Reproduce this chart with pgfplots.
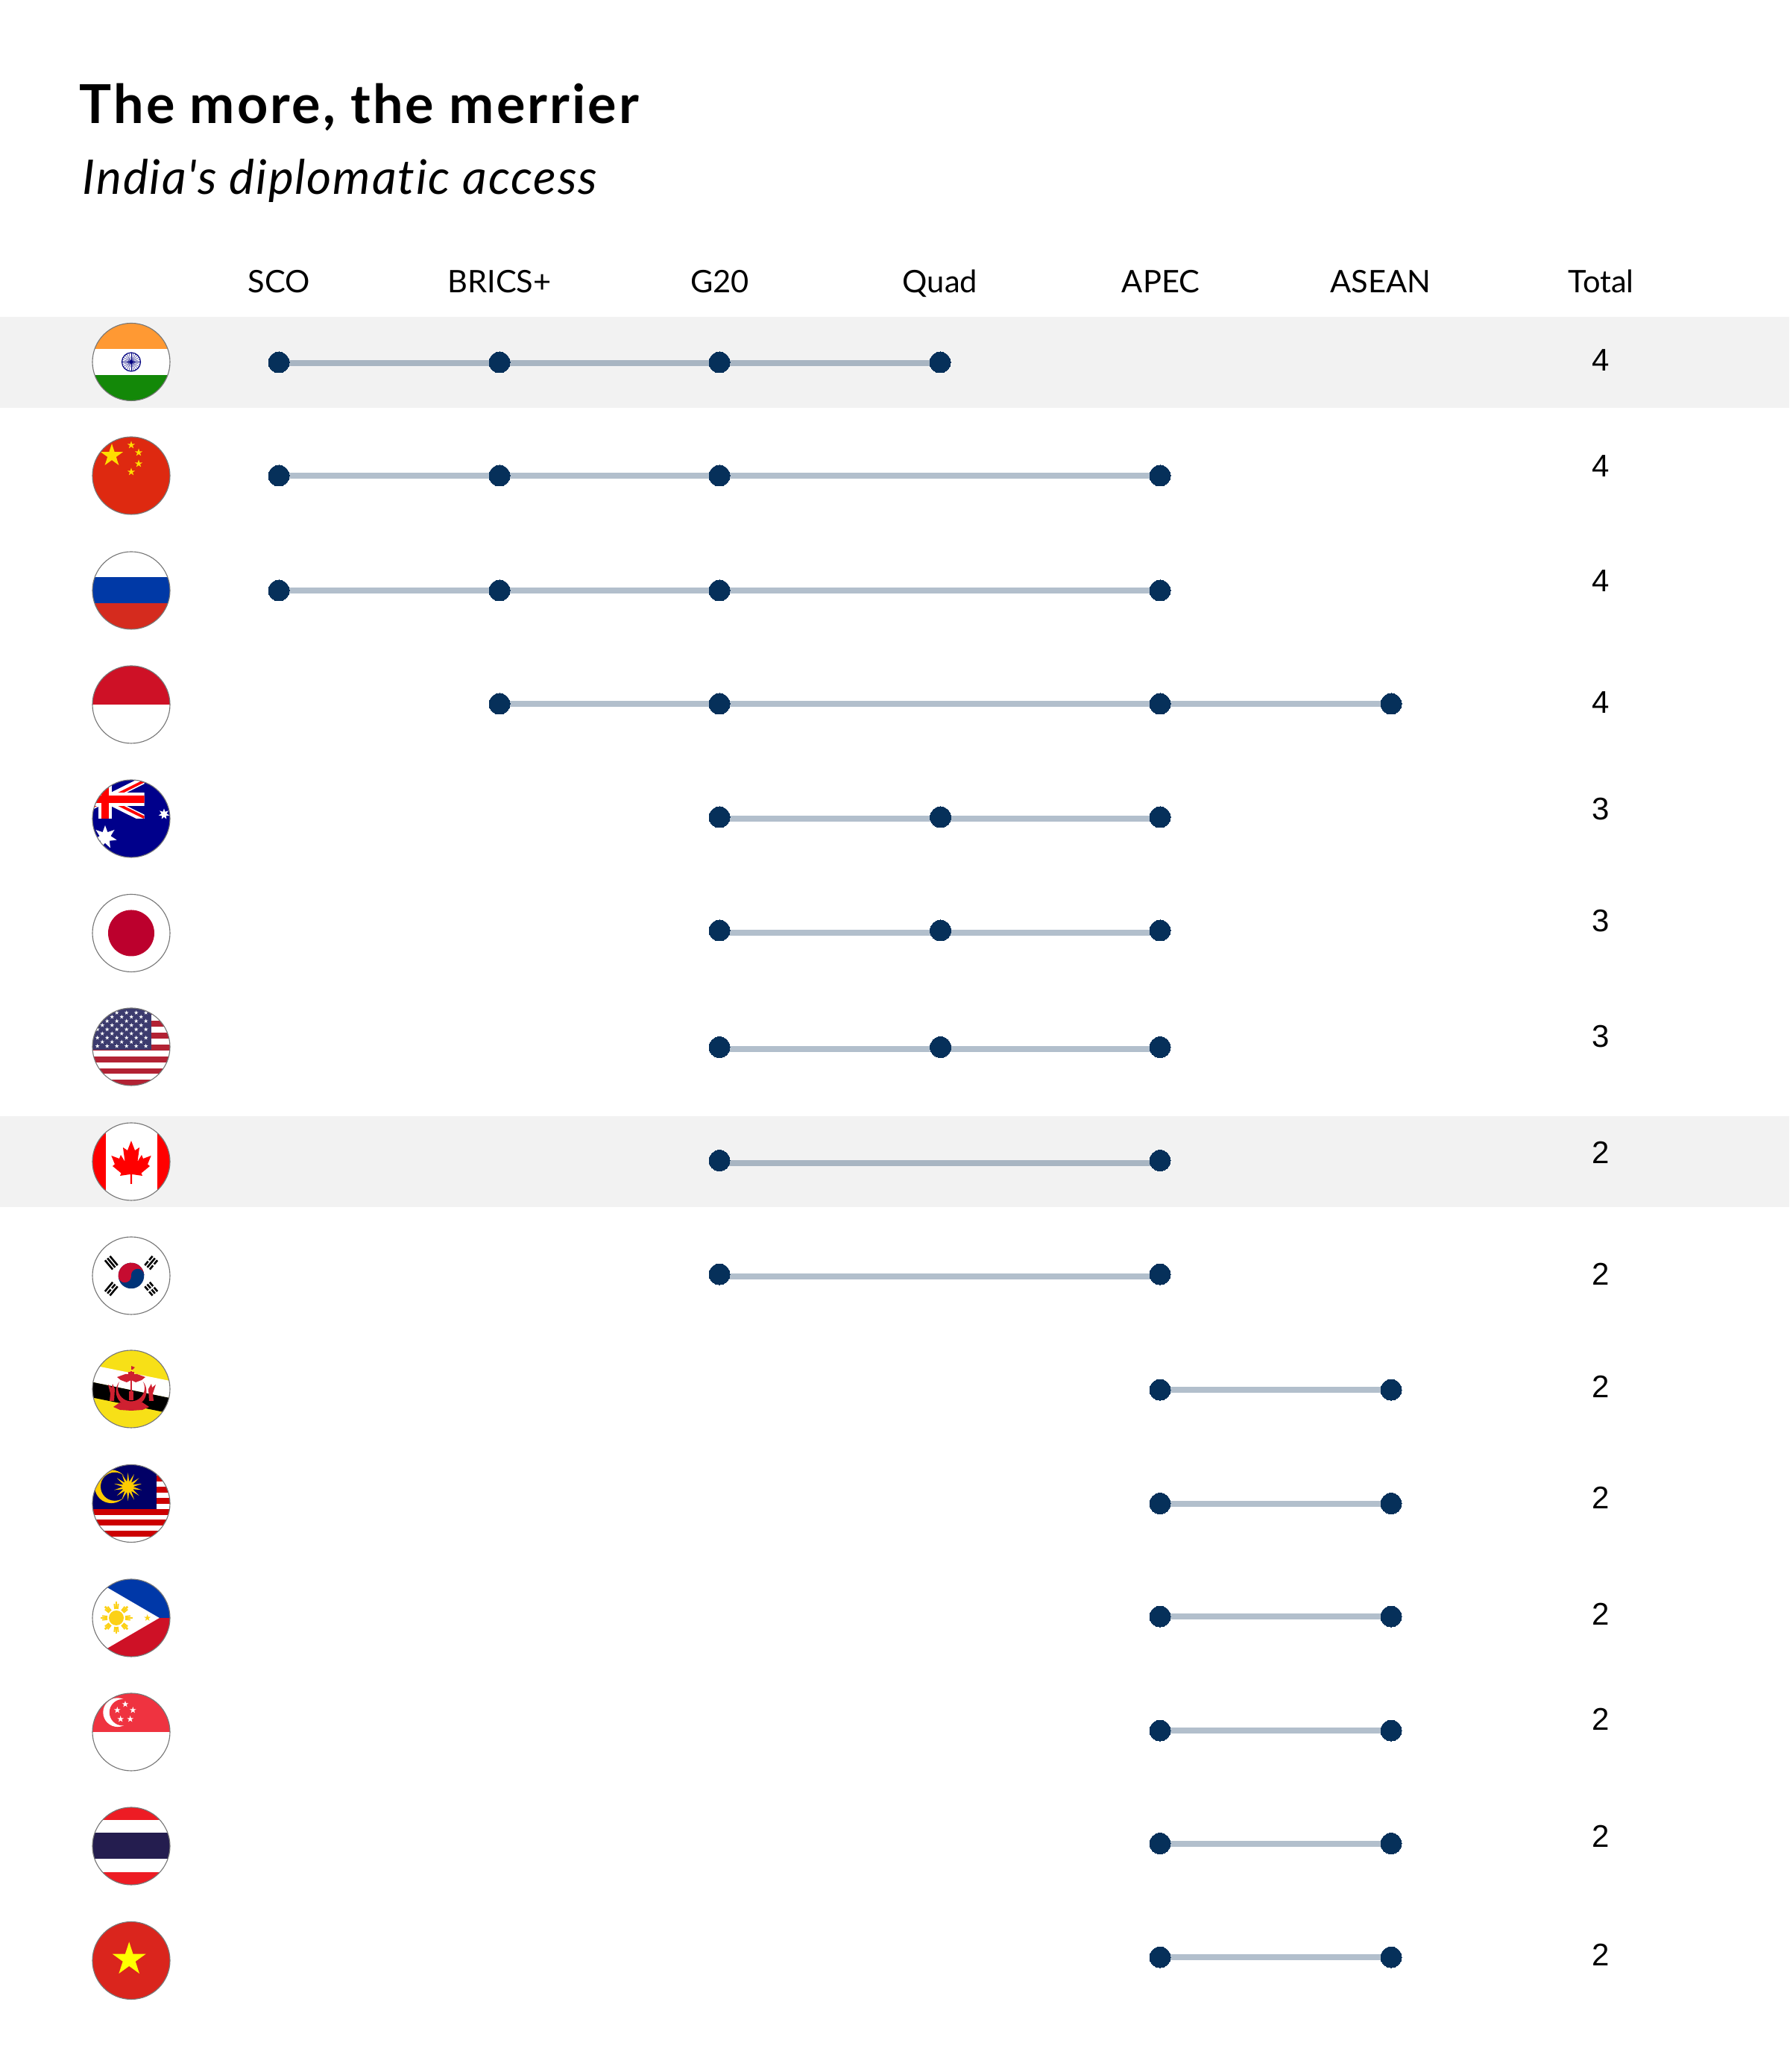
\documentclass[border=0pt]{standalone}
\usepackage{fontspec}
\setmainfont{Lato}
\newfontfamily\numfont{Liberation Sans}
\newfontfamily\titlefont[LetterSpace=4.2]{Lato}
\newfontfamily\subfont[LetterSpace=2.85,Ligatures=NoCommon]{Lato}
\usepackage{pgfplots}
\usepackage{pgfplotstable}
\pgfplotsset{compat=1.18}
\usetikzlibrary{shapes.geometric}
\definecolor{dot}{HTML}{06305A}
\definecolor{band}{HTML}{F2F2F2}
\definecolor{ring}{HTML}{777777}
\pgfplotstableread{
x y
374 486
670 486
965 486
1261 486
374 638
670 638
965 638
1556 638
374 792
670 792
965 792
1556 792
670 944
965 944
1556 944
1866 944
965 1096
1261.5 1096
1556 1096
965 1248
1261.5 1248
1556 1248
965 1404.5
1261.5 1404.5
1556 1404.5
965 1556.5
1556 1556.5
965 1709
1556 1709
1556 1864
1866 1864
1556 2016.5
1866 2016.5
1556 2168
1866 2168
1556 2321
1866 2321
1556 2472.5
1866 2472.5
1556 2625
1866 2625
}\dotdata
\pgfplotstableread{
x y label
374.5 393 SCO
670 393 BRICS+
965.5 393 G20
1261 393 Quad
1557 393 APEC
1852 393 ASEAN
2147.5 393 Total
}\heads
\pgfplotstableread{
x y label
2147.5 497.5 4
2147.5 640 4
2147.5 794 4
2147.5 956.5 4
2147.5 1100 3
2147.5 1249.5 3
2147.5 1405 3
2147.5 1560 2
2147.5 1723 2
2147.5 1874 2
2147.5 2023.5 2
2147.5 2179 2
2147.5 2320 2
2147.5 2477 2
2147.5 2636 2
}\totals
\newcommand\fstar[5][5]{\node[star,star points=#1,star point ratio=#5,minimum size=#4*0.5pt,inner sep=0pt,draw=none,fill=fc] at (#2,#3) {};}
\newcommand\flag[2]{\begin{scope}[shift={(176,#1)}]
  \begin{scope}\clip (0,0) circle[radius=52];
   #2
  \end{scope}
  \draw[ring,line width=0.28pt] (0,0) circle[radius=52];
\end{scope}}
\newcommand\trigram[5]{\begin{scope}[shift={(#1,#2)},rotate=#3]
  \fill[black] (-8,-5.6) rectangle (8,-3.0);
  \ifnum#4=1 \fill[white] (-1,-6) rectangle (1,-2.6);\fi
  \fill[black] (-8,-1.3) rectangle (8,1.3);
  \ifnum#5=1 \fill[white] (-1,-1.6) rectangle (1,1.6);\fi
  \fill[black] (-8,3.0) rectangle (8,5.6);
  \ifnum#4=1 \fill[white] (-1,2.6) rectangle (1,6);\fi
\end{scope}}
\begin{document}
\begin{tikzpicture}
\useasboundingbox (0,0) rectangle (600pt,694.75pt);
\begin{axis}[
  scale only axis, width=600pt, height=694.75pt,
  xmin=0, xmax=2400, ymin=0, ymax=2779, y dir=reverse,
  hide axis, clip=false,
  line/.style={no markers, line width=2pt, dot, opacity=.31, forget plot},
]
\addplot[fill=band, draw=none, forget plot] coordinates {(0,425)(2400,425)(2400,547)(0,547)} -- cycle;
\addplot[fill=band, draw=none, forget plot] coordinates {(0,1497)(2400,1497)(2400,1619)(0,1619)} -- cycle;
\addplot[line] coordinates {(374,487)(1261,487)};
\addplot[line] coordinates {(374,638.5)(1556,638.5)};
\addplot[line] coordinates {(374,792.5)(1556,792.5)};
\addplot[line] coordinates {(670,944)(1866,944)};
\addplot[line] coordinates {(965,1098.5)(1556,1098.5)};
\addplot[line] coordinates {(965,1251)(1556,1251)};
\addplot[line] coordinates {(965,1407)(1556,1407)};
\addplot[line] coordinates {(965,1559.5)(1556,1559.5)};
\addplot[line] coordinates {(965,1712)(1556,1712)};
\addplot[line] coordinates {(1556,1864)(1866,1864)};
\addplot[line] coordinates {(1556,2016.5)(1866,2016.5)};
\addplot[line] coordinates {(1556,2168)(1866,2168)};
\addplot[line] coordinates {(1556,2321)(1866,2321)};
\addplot[line] coordinates {(1556,2472.5)(1866,2472.5)};
\addplot[line] coordinates {(1556,2625)(1866,2625)};
\addplot[only marks, color=dot, mark=*, mark size=3.5pt, mark options={draw=dot, fill=dot, line width=0pt}] table[x=x,y=y] {\dotdata};
\addplot[only marks, mark=none, point meta=explicit symbolic,
  nodes near coords, nodes near coords style={anchor=base, inner sep=0pt, text=black, font=\fontsize{10.4}{13}\selectfont}]
  table[x=x,y=y,meta=label] {\heads};
\addplot[only marks, mark=none, point meta=explicit symbolic,
  nodes near coords, nodes near coords style={anchor=base, inner sep=0pt, text=black, font=\numfont\fontsize{10.5}{12}\selectfont}]
  table[x=x,y=y,meta=label] {\totals};
\node[anchor=base west, inner sep=0pt, font=\titlefont\fontsize{18}{22}\selectfont\bfseries] at (axis cs:106,166) {The more, the merrier};
\node[anchor=base west, inner sep=0pt, font=\subfont\fontsize{16}{18}\selectfont\itshape] at (axis cs:110,261) {India's diplomatic access};
\end{axis}
\begin{scope}[shift={(0,694.75pt)},x=0.25pt,y=-0.25pt]
% India
\flag{485.5}{
 \fill[white] (-52,-52) rectangle (52,52);
 \definecolor{sf}{HTML}{FF9933}\fill[sf] (-52,-52) rectangle (52,-17.5);
 \definecolor{gn}{HTML}{138808}\fill[gn] (-52,17.5) rectangle (52,52);
 \definecolor{nv}{HTML}{000080}
 \draw[nv,line width=.3pt] (0,0) circle[radius=12.5];
 \foreach \a in {0,15,...,345}{\draw[nv,line width=.1pt] (0,0) -- (\a:12);}
 \fill[nv] (0,0) circle[radius=2.4];
}
% China
\flag{638}{
 \definecolor{bgc}{HTML}{DE2910}\definecolor{fc}{HTML}{FFDE00}
 \fill[bgc] (-52,-52) rectangle (52,52);
 \fstar{-26}{-27}{16}{2.618}
 \fstar{0}{-41}{5.5}{2.618}
 \fstar{10}{-31}{5.5}{2.618}
 \fstar{10}{-16}{5.5}{2.618}
 \fstar{0}{-5}{5.5}{2.618}
}
% Russia
\flag{792}{
 \definecolor{ca}{HTML}{0039A6}\definecolor{cb}{HTML}{D52B1E}
 \fill[white] (-52,-52) rectangle (52,52);
 \fill[ca] (-52,-17.5) rectangle (52,17.5);
 \fill[cb] (-52,17.5) rectangle (52,52);
}
% Indonesia
\flag{945}{
 \definecolor{ca}{HTML}{CE1126}
 \fill[white] (-52,-52) rectangle (52,52);
 \fill[ca] (-52,-52) rectangle (52,0);
}
% Australia
\flag{1098}{
 \definecolor{bgc}{HTML}{00008B}\definecolor{fc}{HTML}{FFFFFF}\definecolor{rdc}{HTML}{FF0000}
 \fill[bgc] (-52,-52) rectangle (52,52);
 \begin{scope}\clip (-87,-52) rectangle (17.5,0);
  \draw[white,line width=2.4pt] (-87,-52) -- (17.5,0);
  \draw[white,line width=2.4pt] (-87,0) -- (17.5,-52);
  \draw[rdc,line width=.9pt] (-87,-53.5) -- (17.5,-1.5);
  \draw[rdc,line width=.9pt] (-87,1.5) -- (17.5,-50.5);
  \fill[white] (-87,-35) rectangle (17.5,-17);
  \fill[white] (-44,-52) rectangle (-26,0);
  \fill[rdc] (-87,-31) rectangle (17.5,-21);
  \fill[rdc] (-40,-52) rectangle (-30,0);
 \end{scope}
 \fstar[7]{-35}{25}{16}{2.1}
 \fstar[7]{44}{-6}{7.5}{2.1}
}
% Japan
\flag{1251.5}{
 \definecolor{ca}{HTML}{BC002D}
 \fill[white] (-52,-52) rectangle (52,52);
 \fill[ca] (0,0) circle[radius=31];
}
% USA
\flag{1404}{
 \definecolor{bgc}{HTML}{3C3B6E}\definecolor{rdc}{HTML}{B22234}\definecolor{fc}{HTML}{FFFFFF}
 \fill[white] (-52,-52) rectangle (52,52);
 \foreach \yy in {-51,-35,-19,-3.2,12.7,28.6,44.4}{\fill[rdc] (-52,\yy) rectangle (52,\yy+7.9);}
 \fill[bgc] (-52,-52) rectangle (26.7,4.4);
 \foreach \yy in {-45.7,-34.5,-23.3,-12.1,-0.9}{\foreach \xx in {-45.3,-32.3,-19.3,-6.3,6.7,19.7}{\fstar{\xx}{\yy}{3}{2.618}}}
 \foreach \yy in {-40.1,-28.9,-17.7,-6.5}{\foreach \xx in {-38.8,-25.8,-12.8,0.2,13.2}{\fstar{\xx}{\yy}{3}{2.618}}}
}
% Canada
\flag{1558}{
 \definecolor{ca}{HTML}{FF0000}
 \fill[white] (-52,-52) rectangle (52,52);
 \fill[ca] (-52,-52) rectangle (-34.5,52);
 \fill[ca] (34.5,-52) rectangle (52,52);
 \fill[ca] (0,-28) -- (5,-15) -- (11,-19) -- (8.5,0) -- (14,-9) -- (16,-4) -- (26.7,-8) -- (22,3.5) -- (25,6) -- (13.5,15.5) -- (15,19) -- (1.2,17) -- (1.2,30) -- (-1.2,30) -- (-1.2,17) -- (-15,19) -- (-13.5,15.5) -- (-25,6) -- (-22,3.5) -- (-26.7,-8) -- (-16,-4) -- (-14,-9) -- (-8.5,0) -- (-11,-19) -- (-5,-15) -- cycle;
}
% Korea
\flag{1711}{
 \definecolor{rdc}{HTML}{C60C30}\definecolor{blc}{HTML}{003478}
 \fill[white] (-52,-52) rectangle (52,52);
 \begin{scope}[rotate=4]
  \fill[blc] (0,0) circle[radius=17.3];
  \fill[rdc] (-17.3,0) arc[start angle=180,end angle=360,radius=17.3] -- cycle;
  \fill[rdc] (-8.65,0) circle[radius=8.65];
  \fill[blc] (8.65,0) circle[radius=8.65];
 \end{scope}
 \trigram{-26.7}{-17.3}{-50}{0}{0}
 \trigram{26.7}{-17.3}{50}{1}{0}
 \trigram{-26.7}{17.7}{50}{0}{1}
 \trigram{26.7}{17.7}{-50}{1}{1}
}
% Brunei
\flag{1863}{
 \definecolor{ylc}{HTML}{F7E017}\definecolor{rdc}{HTML}{CF2030}
 \fill[ylc] (-52,-52) rectangle (52,52);
 \fill[white] (-60,-33.7) -- (60,-9.3) -- (60,13.7) -- (-60,-10.9) -- cycle;
 \fill[black] (-60,-10.9) -- (60,13.7) -- (60,34.2) -- (-60,9.8) -- cycle;
 \fill[rdc] (-1.2,-24) rectangle (1.2,12);
 \fill[rdc] (0,-31) -- (5,-29) -- (2,-26) -- (0,-26) -- cycle;
 \fill[rdc] (-4,-23) rectangle (4,-20);
 \fill[rdc] (0,-20) -- (-8,-20) -- (-19,-16) -- (-14,-12) -- (-6,-9) -- (0,-12) -- (6,-9) -- (14,-12) -- (19,-16) -- (8,-20) -- cycle;
 \begin{scope}\clip (-30,-9) rectangle (30,30);
  \fill[rdc,even odd rule] (0,3) circle[radius=20.5] (0,-1.5) circle[radius=18];
 \end{scope}
 \fill[rdc] (-3,3) rectangle (3,15);
 \fill[rdc] (-24,24) -- (-15,18) -- (0,21) -- (15,18) -- (24,24) -- (15,28) -- (0,29) -- (-15,28) -- cycle;
 \fill[rdc] (-31,-6) -- (-26,-2) -- (-25,-7) -- (-22,0) -- (-23,16) -- (-29,16) -- (-28,6) -- cycle;
 \fill[rdc] (33,-6) -- (28,-2) -- (27,-7) -- (23,0) -- (24,16) -- (30,16) -- (29,6) -- cycle;
}
% Malaysia
\flag{2016.5}{
 \definecolor{bgc}{HTML}{010066}\definecolor{rdc}{HTML}{CC0001}\definecolor{fc}{HTML}{FFCC00}
 \fill[white] (-52,-52) rectangle (52,52);
 \foreach \yy in {-52,-37,-22,-7.3,7.7,22,37}{\fill[rdc] (-52,\yy) rectangle (52,\yy+7.4);}
 \fill[bgc] (-52,-52) rectangle (34,7.7);
 \fill[fc] (-26.7,-22.7) circle[radius=22.3];
 \fill[bgc] (-22,-22.7) circle[radius=19];
 \fstar[14]{-4.3}{-22.3}{19}{2.7}
}
% Philippines
\flag{2170}{
 \definecolor{ca}{HTML}{0038A8}\definecolor{cb}{HTML}{CE1126}\definecolor{fc}{HTML}{FCD116}
 \fill[ca] (-52,-52) rectangle (52,0);
 \fill[cb] (-52,0) rectangle (52,52);
 \fill[white] (37.7,0) -- (-54,-53.5) -- (-54,53.5) -- cycle;
 \fill[fc] (-20,0) circle[radius=10];
 \foreach \a in {0,45,...,315}{
  \draw[fc,line width=.7pt] (-20,0) ++(\a:12) -- ++(\a:9.5);
  \draw[fc,line width=.5pt] (-20,0) ++(\a+9:12) -- ++(\a+6:7);
  \draw[fc,line width=.5pt] (-20,0) ++(\a-9:12) -- ++(\a-6:7);
 }
 \fstar{21.7}{0}{4.8}{2.618}
}
% Singapore
\flag{2323}{
 \definecolor{ca}{HTML}{EF3340}\definecolor{fc}{HTML}{FFFFFF}
 \fill[white] (-52,-52) rectangle (52,52);
 \fill[ca] (-52,-52) rectangle (52,0);
 \fill[white] (-18.3,-26.3) circle[radius=19.4];
 \fill[ca] (-11.5,-26.3) circle[radius=17.7];
 \begin{scope}
 \clip (-52,-52) rectangle (52,0);
 \fstar{-8}{-37.3}{4.6}{2.618}
 \fstar{-18.7}{-29.3}{4.6}{2.618}
 \fstar{2.3}{-29.3}{4.6}{2.618}
 \fstar{-14.3}{-17.3}{4.6}{2.618}
 \fstar{-1.3}{-17.3}{4.6}{2.618}
 \end{scope}
}
% Thailand
\flag{2476}{
 \definecolor{ca}{HTML}{ED1C24}\definecolor{cb}{HTML}{241D4F}
 \fill[white] (-52,-52) rectangle (52,52);
 \fill[ca] (-52,-52) rectangle (52,-35);
 \fill[ca] (-52,35) rectangle (52,52);
 \fill[cb] (-52,-17.5) rectangle (52,17.5);
}
% Vietnam
\flag{2629.5}{
 \definecolor{ca}{HTML}{DA251D}\definecolor{fc}{HTML}{FFFF00}
 \fill[ca] (-52,-52) rectangle (52,52);
 \fstar{-2.8}{-1.5}{23.5}{2.618}
}
\end{scope}
\end{tikzpicture}
\end{document}
